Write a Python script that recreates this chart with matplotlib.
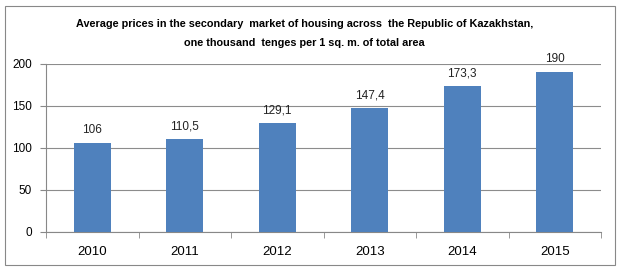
import matplotlib.pyplot as plt
from matplotlib.patches import Rectangle

years = ['2010', '2011', '2012', '2013', '2014', '2015']
prices = [106, 110.5, 129.1, 147.4, 173.3, 190]
price_labels = ['106', '110,5', '129,1', '147,4', '173,3', '190']

plt.rcParams['font.family'] = ['Liberation Sans', 'DejaVu Sans']

fig = plt.figure(figsize=(6.21, 2.71), dpi=100)
ax = fig.add_axes([46/621, 1 - 231.7/271, 555/621, 167.7/271])

# grey border around the chart
fig.patches.append(Rectangle((5/621, 6/271), 610/621, 259/271, transform=fig.transFigure,
                             fill=False, edgecolor='#888888', linewidth=0.8))

x = list(range(len(years)))
ax.bar(x, prices, width=0.4, color='#4F81BD', zorder=3)
for xi, v, lab in zip(x, prices, price_labels):
    ax.annotate(lab, (xi, v), xytext=(0, 5), textcoords='offset points',
                ha='center', va='bottom', fontsize=8.5, color='#222222')

ax.set_xlim(-0.5, len(years) - 0.5)
ax.set_ylim(0, 200)
ax.set_yticks([0, 50, 100, 150, 200])
ax.set_xticks(x)
ax.set_xticklabels(years)
ax.set_xticks([i - 0.5 for i in range(len(years) + 1)], minor=True)
ax.tick_params(axis='x', which='major', length=0, pad=10, labelsize=9.5)
ax.tick_params(axis='x', which='minor', length=4, color='#888888', direction='out')
ax.tick_params(axis='y', length=4, color='#888888', labelsize=8.5, pad=6)
ax.yaxis.grid(True, color='#8c8c8c', linewidth=0.8, zorder=0)
for s in ['top', 'right']:
    ax.spines[s].set_visible(False)
ax.spines['left'].set_color('#888888')
ax.spines['bottom'].set_color('#888888')

fig.text(0.49, 1 - 24/271, 'Average prices in the secondary  market of housing across  the Republic of Kazakhstan,',
         ha='center', va='center', fontsize=7.8, fontweight='bold')
fig.text(0.49, 1 - 43/271, 'one thousand  tenges per 1 sq. m. of total area',
         ha='center', va='center', fontsize=7.8, fontweight='bold')

fig.savefig('out.png', dpi=100)
